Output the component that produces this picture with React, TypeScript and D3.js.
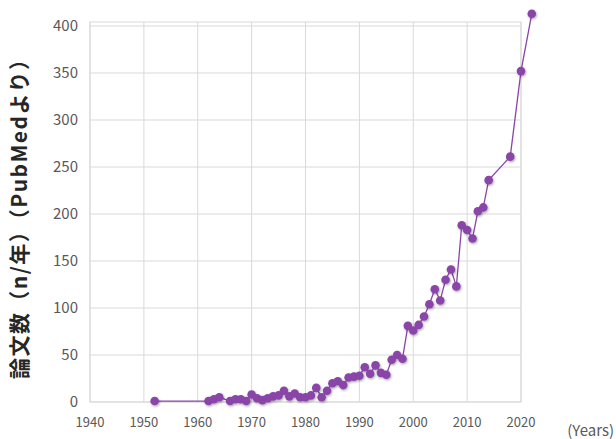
import React from "react";
import * as d3 from "d3";

// papers per year
const years = [
  1952, 1962, 1963, 1964, 1966, 1967, 1968, 1969, 1970, 1971, 1972, 1973, 1974,
  1975, 1976, 1977, 1978, 1979, 1980, 1981, 1982, 1983, 1984, 1985, 1986, 1987,
  1988, 1989, 1990, 1991, 1992, 1993, 1994, 1995, 1996, 1997, 1998, 1999, 2000,
  2001, 2002, 2003, 2004, 2005, 2006, 2007, 2008, 2009, 2010, 2011, 2012, 2013,
  2014, 2018, 2020, 2022
];
const counts = [
  1, 1, 3, 5, 1, 3, 3, 1, 8, 4, 2, 4, 6,
  7, 12, 6, 9, 5, 5, 7, 15, 5, 12, 20, 22, 18,
  26, 27, 28, 37, 30, 39, 31, 29, 45, 50, 46, 81, 76,
  82, 91, 104, 120, 108, 130, 141, 123, 188, 183, 174, 203, 207,
  236, 261, 352, 413
];
const xTicks = [1940, 1950, 1960, 1970, 1980, 1990, 2000, 2010, 2020];
const yTicks = [0, 50, 100, 150, 200, 250, 300, 350, 400];

const W = 616;
const H = 439;
const left = 90, right = 521, top = 22, bottom = 402;

const x = d3.scaleLinear().domain([1940, 2020]).range([left, right]);
const y = d3.scaleLinear().domain([0, 400]).range([bottom, 26]);

const purple = "#8a44a8";
const grid = "#d9d9d9";
const tickColor = "#595959";

const App = () => {
  const pts = years.map((yr, i) => ({ yr, v: counts[i] }));
  const line = d3
    .line<{ yr: number; v: number }>()
    .x(d => x(d.yr))
    .y(d => y(d.v));

  return (
    <svg
      width={W}
      height={H}
      style={{ position: "absolute", left: 0, top: 0, background: "#fff" }}
      fontFamily="'Noto Sans CJK JP', 'Noto Sans', sans-serif"
    >
      <defs>
        <filter id="sh" x="-50%" y="-50%" width="200%" height="200%">
          <feDropShadow dx="0.8" dy="1.2" stdDeviation="0.9" floodColor="#000" floodOpacity="0.35" />
        </filter>
      </defs>
      {/* frame + grid */}
      <rect x={left} y={top} width={right - left} height={bottom - top} fill="none" stroke={grid} />
      {xTicks.map(t => (
        <line key={"gx" + t} x1={x(t)} x2={x(t)} y1={top} y2={bottom} stroke={grid} />
      ))}
      {yTicks.map(t => (
        <line key={"gy" + t} x1={left} x2={right} y1={y(t)} y2={y(t)} stroke={grid} />
      ))}
      {/* tick labels */}
      {yTicks.map(t => (
        <text key={"ty" + t} x={78} y={y(t)} dy="0.35em" textAnchor="end" fontSize={15} fill={tickColor}>
          {t}
        </text>
      ))}
      {xTicks.map(t => (
        <text key={"tx" + t} x={x(t)} y={422} dy="0.35em" textAnchor="middle" fontSize={13} fill={tickColor}>
          {t}
        </text>
      ))}
      <text x={614} y={431} dy="0.35em" textAnchor="end" fontSize={15} fill={tickColor}>
        (Years)
      </text>
      <text
        transform={`translate(20,214) rotate(-90)`}
        textAnchor="middle"
        dy="0.35em"
        fontSize={21}
        fontWeight="bold"
        fill="#262626"
        textLength={330}
        lengthAdjust="spacing"
      >
        論文数（n/年）（PubMedより）
      </text>
      {/* series */}
      <path d={line(pts) || ""} fill="none" stroke={purple} strokeWidth={1.3} />
      <g filter="url(#sh)">
        {pts.map(d => (
          <circle key={d.yr} cx={x(d.yr)} cy={y(d.v)} r={4.3} fill={purple} />
        ))}
      </g>
    </svg>
  );
};

export default App;
